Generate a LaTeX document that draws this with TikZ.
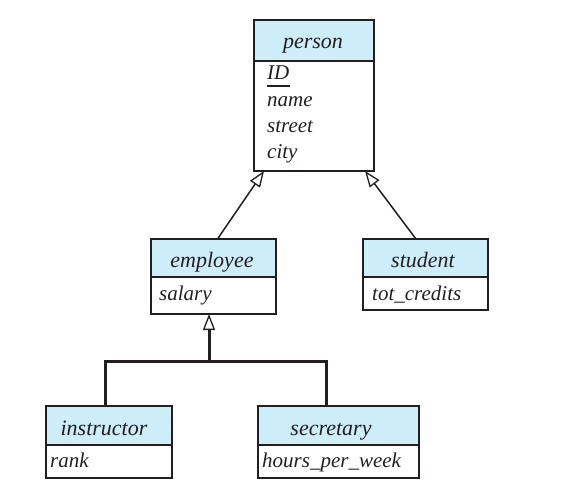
\documentclass[tikz,border=0pt]{standalone}
\usepackage{fontspec}
\setmainfont{Liberation Serif}
\usetikzlibrary{arrows.meta,calc}
\definecolor{hdrblue}{RGB}{205,237,249}
\definecolor{ink}{RGB}{35,31,32}
\begin{document}
\begin{tikzpicture}[x=1pt,y=-1pt,
  box/.style={draw=ink, line width=1.2pt, inner sep=0pt, outer sep=0pt, anchor=north west},
  hdr/.style={box, fill=hdrblue},
  title/.style={inner sep=0pt, anchor=base, font=\fontsize{22}{26}\selectfont\itshape, text=ink},
  attr/.style={inner sep=0pt, anchor=base west, font=\fontsize{21}{26}\selectfont\itshape, text=ink},
  isa/.style={draw=ink, line width=1.5pt, -{Triangle[open, length=16pt, width=12pt, line width=1.3pt]}},
  tree/.style={draw=ink, line width=3pt}]
\useasboundingbox (0,0) rectangle (573,491);
% person
\node[hdr, minimum width=120pt, minimum height=41pt] (personH) at (254,20) {};
\node[box, minimum width=120pt, minimum height=110pt] (personB) at (254,61) {};
\node[title] (tperson) at (313,48) {person};
\node[attr] (aID) at (267,79) {ID};
\draw[ink, line width=2.4pt] ([yshift=-7pt]aID.base west) -- ([yshift=-7pt]aID.base east);
\node[attr] (aname) at (267,106) {name};
\node[attr] (astreet) at (267,132) {street};
\node[attr] (acity) at (267,158) {city};
% employee
\node[hdr, minimum width=125pt, minimum height=38pt] (empH) at (151,239) {};
\node[box, minimum width=125pt, minimum height=37pt] (empB) at (151,277) {};
\node[title] (temp) at (212,267) {employee};
\node[attr] (asalary) at (159,300) {salary};
% student
\node[hdr, minimum width=125pt, minimum height=38pt] (stuH) at (363,239) {};
\node[box, minimum width=125pt, minimum height=33pt] (stuB) at (363,277) {};
\node[title] (tstu) at (423,267) {student};
\node[attr] (atot) at (372,300) {tot\_credits};
% instructor
\node[hdr, minimum width=126pt, minimum height=39pt] (instH) at (46,406) {};
\node[box, minimum width=126pt, minimum height=33pt] (instB) at (46,445) {};
\node[title] (tinst) at (104,435) {instructor};
\node[attr] (arank) at (50,467) {rank};
% secretary
\node[hdr, minimum width=161pt, minimum height=39pt] (secH) at (258,406) {};
\node[box, minimum width=161pt, minimum height=33pt] (secB) at (258,445) {};
\node[title] (tsec) at (331,435) {secretary};
\node[attr] (ahours) at (262,467) {hours\_per\_week};
% connectors
\draw[isa] ([xshift=4pt]empH.north) -- ([xshift=-50pt]personB.south);
\draw[isa] ([xshift=-9.5pt]stuH.north) -- ([xshift=51pt]personB.south);
\coordinate (junction) at (209,361);
\draw[tree] ([xshift=-4pt]instH.north) |- (junction) -| ([xshift=-12.5pt]secH.north);
\draw[isa, line width=3pt] (junction) -- ([xshift=-4.5pt]empB.south);
\end{tikzpicture}
\end{document}
